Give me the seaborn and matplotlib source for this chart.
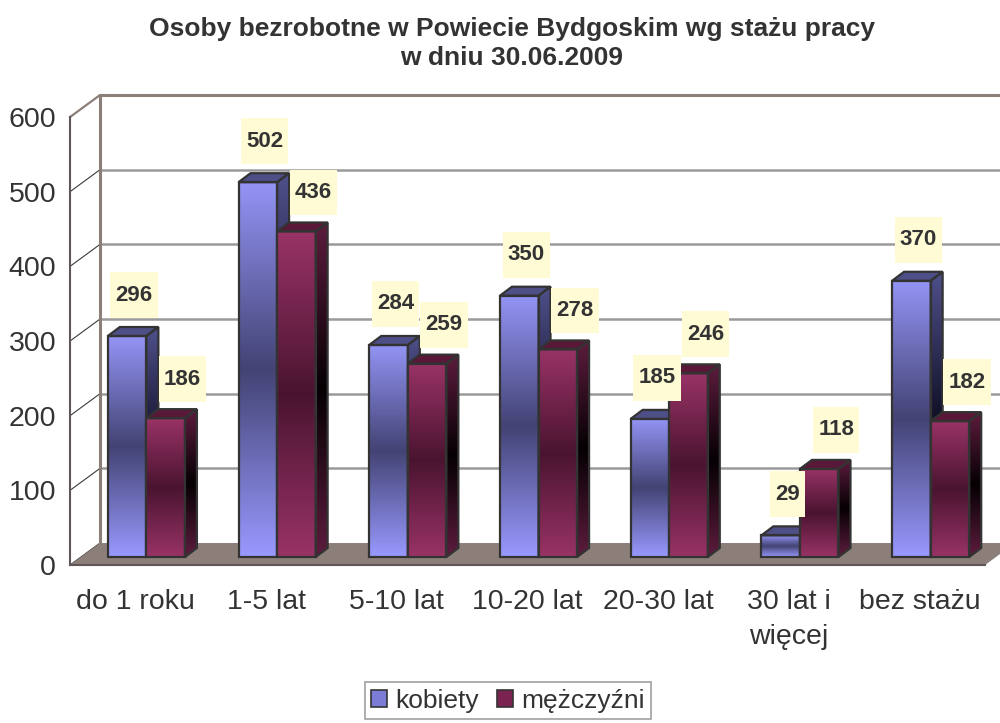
"""Osoby bezrobotne w Powiecie Bydgoskim wg stażu pracy - wykres słupkowy 3D."""
import numpy as np
import pandas as pd
import matplotlib
matplotlib.use("Agg")
import matplotlib.pyplot as plt
import seaborn as sns
from matplotlib.colors import LinearSegmentedColormap
from matplotlib.patches import Polygon, Patch, Rectangle
from matplotlib.path import Path

# Dane
kategorie = ["do 1 roku", "1-5 lat", "5-10 lat", "10-20 lat", "20-30 lat",
             "30 lat i\nwięcej", "bez stażu"]
kobiety = [296, 502, 284, 350, 185, 29, 370]
mezczyzni = [186, 436, 259, 278, 246, 118, 182]
serie = ["kobiety", "mężczyźni"]
y_ticks = [0, 100, 200, 300, 400, 500, 600]

df = pd.DataFrame({
    "staz": kategorie * 2,
    "plec": [serie[0]] * len(kobiety) + [serie[1]] * len(mezczyzni),
    "liczba": kobiety + mezczyzni,
})

sns.set_style("white")
plt.rcParams["font.family"] = ["Liberation Sans", "DejaVu Sans"]

TEXT = "#333333"
WALL = "#8c7f7a"
GRID = "#9a9a9a"
AXIS = "#5f5757"
EDGE = "#333333"

# kolory: przód, bok, góra
front_cmap = {
    "kobiety": LinearSegmentedColormap.from_list("kf", ["#9999ff", "#434374", "#9494f6"]),
    "mężczyźni": LinearSegmentedColormap.from_list("mf", ["#993366", "#4a1430", "#993366"]),
}
side_cmap = {
    "kobiety": LinearSegmentedColormap.from_list("ks", ["#50508c", "#12122a", "#50508c"]),
    "mężczyźni": LinearSegmentedColormap.from_list("ms", ["#5e1c3e", "#050003", "#5e1c3e"]),
}
top_color = {"kobiety": "#4f4f88", "mężczyźni": "#5a1838"}
legend_color = {"kobiety": "#7c7cd6", "mężczyźni": "#7a2250"}
# przesunięcie etykiet względem środka górnej krawędzi słupka (piksele)
label_offset = {"kobiety": (7, 41), "mężczyźni": (17, 39)}

grad = np.linspace(0, 1, 256).reshape(-1, 1)


def label_box(x0, y0, width, height, mutation_size):
    """Prostokąt etykiety - wyższy niż szerszy margines."""
    px, py = 0.23 * mutation_size, 0.56 * mutation_size
    xa, xb, ya, yb = x0 - px, x0 + width + px, y0 - py, y0 + height + py
    return Path([(xa, ya), (xb, ya), (xb, yb), (xa, yb), (xa, ya)], closed=True)


fig = plt.figure(figsize=(10, 7.23), dpi=100)
ax = fig.add_axes([0.07, 0.2185, 0.915, 0.6196])

sns.barplot(data=df, x="staz", y="liczba", hue="plec", order=kategorie,
            hue_order=serie, width=0.59, dodge=True, legend=False,
            palette=["#9999ff", "#993366"], saturation=1,
            edgecolor=EDGE, linewidth=1.6, ax=ax)
bars = sorted([p for p in ax.patches if isinstance(p, Rectangle)],
              key=lambda p: p.get_x())

XMIN, XMAX, YMAX = -0.5, len(kategorie) - 0.5, 600
ax_w = fig.get_figwidth() * fig.dpi * 0.915
ax_h = fig.get_figheight() * fig.dpi * 0.6196
kx = (XMAX - XMIN) / ax_w   # dane na piksel
ky = YMAX / ax_h

# głębia ścian i słupków (w pikselach)
dx, dy = 30 * kx, 22 * ky
ox, oy = 11 * kx, 8 * ky
bx, by = 12 * kx, 9 * ky

# tylna ściana i linie siatki
for t in y_ticks:
    if 0 < t < YMAX:
        ax.plot([XMIN + dx, XMAX + dx], [t + dy, t + dy], color=GRID, lw=1.8,
                clip_on=False, zorder=0.5)
    ax.plot([XMIN, XMIN + dx], [t, t + dy], color=WALL if t == YMAX else "#3a3a3a",
            lw=1.6 if t == YMAX else 0.8, clip_on=False, zorder=0.6)
ax.plot([XMIN + dx, XMAX + dx], [YMAX + dy, YMAX + dy], color=WALL, lw=2.2,
        clip_on=False, zorder=0.6)
ax.plot([XMIN + dx, XMIN + dx], [dy, YMAX + dy], color=WALL, lw=2.2,
        clip_on=False, zorder=0.6)

# podłoga
ax.add_patch(Polygon([(XMIN, 0), (XMAX, 0), (XMAX + dx, dy), (XMIN + dx, dy)],
                     closed=True, facecolor=WALL, edgecolor="none",
                     clip_on=False, zorder=1))

# słupki 3D
for i, p in enumerate(bars):
    s = serie[i % 2]
    z = 3 + i
    x, w, h = p.get_x() + ox, p.get_width(), p.get_height()
    y0 = oy
    p.set_x(x)
    p.set_y(y0)
    p.set_facecolor("none")
    p.set_zorder(z + 0.4)
    ax.imshow(grad, extent=[x, x + w, y0, y0 + h], origin="lower", aspect="auto",
              cmap=front_cmap[s], zorder=z, interpolation="bilinear")
    side = Polygon([(x + w, y0), (x + w + bx, y0 + by), (x + w + bx, y0 + h + by),
                    (x + w, y0 + h)], closed=True, facecolor="none",
                   edgecolor=EDGE, lw=1.6, zorder=z + 0.3)
    ax.add_patch(side)
    im = ax.imshow(grad, extent=[x + w, x + w + bx, y0, y0 + h + by], origin="lower",
                   aspect="auto", cmap=side_cmap[s], zorder=z + 0.1,
                   interpolation="bilinear")
    im.set_clip_path(side)
    ax.add_patch(Polygon([(x, y0 + h), (x + w, y0 + h), (x + w + bx, y0 + h + by),
                          (x + bx, y0 + h + by)], closed=True,
                         facecolor=top_color[s], edgecolor=EDGE, lw=1.6,
                         zorder=z + 0.2))
    ax.annotate(f"{int(h)}", xy=(x + w / 2, y0 + h), xytext=label_offset[s],
                textcoords="offset pixels", ha="center", va="center",
                fontsize=16, fontweight="bold", color=TEXT, zorder=30,
                bbox=dict(boxstyle=label_box, facecolor="#fffbd5", edgecolor="none"),
                annotation_clip=False)

ax.set_xlim(XMIN, XMAX)
ax.set_ylim(0, YMAX)

# osie
for side_name in ["top", "right"]:
    ax.spines[side_name].set_visible(False)
for side_name in ["left", "bottom"]:
    ax.spines[side_name].set_color(AXIS)
    ax.spines[side_name].set_linewidth(1.5)
    ax.spines[side_name].set_zorder(2)

ax.set_yticks(y_ticks)
ax.tick_params(axis="y", length=6, width=1.2, color=AXIS, labelsize=20.5,
               labelcolor=TEXT, pad=4)
ax.set_xticks(range(len(kategorie)), labels=kategorie)
ax.set_xticks(np.arange(XMIN, XMAX + 0.5, 1), minor=True)
ax.tick_params(axis="x", which="major", length=0, labelsize=20.5, labelcolor=TEXT, pad=17)
ax.tick_params(axis="x", which="minor", length=6, width=1.2, color=AXIS)
for lbl in ax.get_xticklabels():
    lbl.set_linespacing(1.45)
ax.set_xlabel("")
ax.set_ylabel("")
ax.grid(False)

fig.text(0.512, 1 - 43.5 / 723,
         "Osoby bezrobotne w Powiecie Bydgoskim wg stażu pracy\nw dniu 30.06.2009",
         ha="center", va="center", fontsize=19, fontweight="bold", color=TEXT,
         linespacing=1.3)

handles = [Patch(facecolor=legend_color[s], edgecolor=EDGE, lw=1.2) for s in serie]
leg = fig.legend(handles=handles, labels=serie, loc="upper center",
                 bbox_to_anchor=(0.508, 1 - 669 / 723), ncol=2, frameon=True,
                 fancybox=False, edgecolor="#888888", fontsize=19,
                 handlelength=0.6, handleheight=0.6, handletextpad=0.3,
                 columnspacing=0.7, borderpad=0.25, labelcolor=TEXT)
leg.get_frame().set_linewidth(1.2)

fig.savefig("out.png", dpi=100)
